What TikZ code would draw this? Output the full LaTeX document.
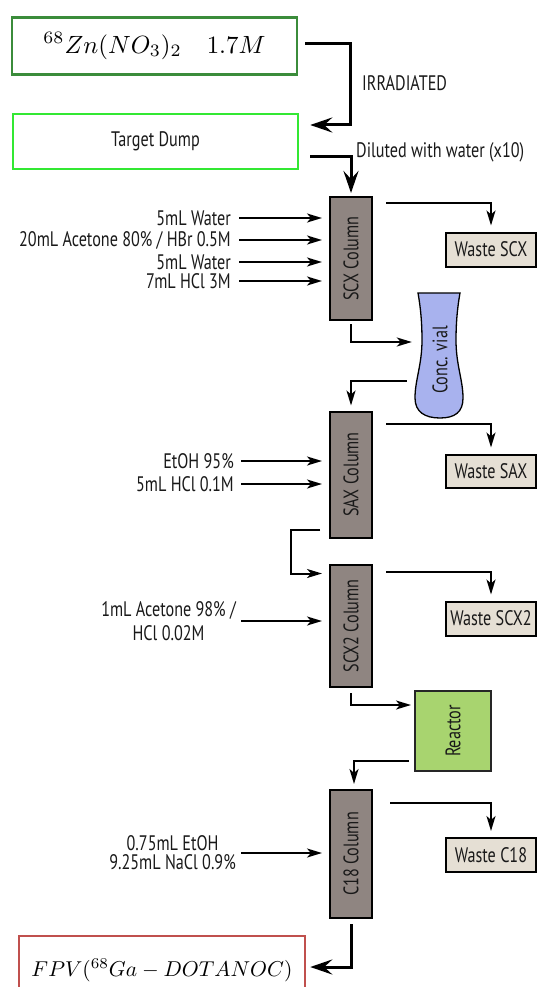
\documentclass[tikz,border=0pt]{standalone}
\usepackage{graphicx}
\usepackage{fontspec}
\newfontfamily\lbl[FakeStretch=0.77]{PT Sans}
\usetikzlibrary{arrows.meta,calc}
\definecolor{topgreen}{HTML}{3B8C3B}
\definecolor{dumpgreen}{HTML}{33E833}
\definecolor{colfill}{HTML}{8F8581}
\definecolor{wastefill}{HTML}{E5DFD4}
\definecolor{vialfill}{HTML}{A8B2EE}
\definecolor{reactfill}{HTML}{A8D46F}
\definecolor{fpvred}{HTML}{C0504D}
\begin{document}
\begin{tikzpicture}[x=1pt,y=-1pt,
  lbltext/.style={font=\lbl\fontsize{21}{24}\selectfont, text=black!90, inner sep=0pt},
  column/.style={draw=black, line width=2pt, fill=colfill, minimum width=42pt, inner sep=0pt, lbltext},
  waste/.style={draw=black, line width=2pt, fill=wastefill, minimum width=90pt, minimum height=34pt, inner sep=0pt, lbltext},
  arr/.style={line width=2pt, -{Stealth[length=15pt,width=9pt,inset=4pt]}},
  bigarr/.style={line width=3pt, -{Stealth[length=22pt,width=15pt,inset=8pt]}},
  inlabel/.style={lbltext, anchor=east}
]
\useasboundingbox (0,0) rectangle (536,987);

% top boxes
\node[draw=topgreen, line width=2.5pt, minimum width=285pt, minimum height=57pt, inner sep=0pt] (top) at (154.5,46)
  {\resizebox{222pt}{!}{$^{68}Zn(NO_3)_2\quad 1.7M$}};
\node[draw=dumpgreen, line width=2.5pt, minimum width=285pt, minimum height=55pt, inner sep=0pt, lbltext] (dump) at (155.5,141.5) {Target Dump};
\node[lbltext, anchor=west] (irr) at (362,83) {IRRADIATED};
\node[lbltext, anchor=west] (dil) at (356,152) {Diluted with water (x10)};

% columns
\node[column, minimum height=123pt] (scx) at (351,258.5) {\rotatebox{90}{SCX Column}};
\node[column, minimum height=126pt] (sax) at (351,474.5) {\rotatebox{90}{SAX Column}};
\node[column, minimum height=122pt] (scx2) at (351,626) {\rotatebox{90}{SCX2 Column}};
\node[column, minimum height=128pt] (c18) at (351,854) {\rotatebox{90}{C18 Column}};

% waste boxes
\node[waste] (wscx) at (491,249.5) {Waste SCX};
\node[waste, minimum height=33pt] (wsax) at (491,471) {Waste SAX};
\node[waste] (wscx2) at (491,618.5) {Waste SCX2};
\node[waste] (wc18) at (491,855) {Waste C18};

% vial
\draw[line width=1.3pt, fill=vialfill] (418,293) -- (460,293)
  .. controls (457,310) and (456,325) .. (456,340)
  .. controls (456,365) and (463,380) .. (463,398)
  .. controls (463,412) and (455,418) .. (440,418)
  .. controls (425,418) and (415,412) .. (415,398)
  .. controls (415,380) and (422,365) .. (422,340)
  .. controls (422,325) and (421,310) .. (418,293) -- cycle;
\node[minimum width=48pt, minimum height=125pt, inner sep=0pt] (vial) at (439,355.5) {};
\node[lbltext] (vialtxt) at (440,360) {\rotatebox{90}{Conc. vial}};

% reactor
\node[draw=black!85, line width=2pt, fill=reactfill, minimum width=76pt, minimum height=80pt, lbltext] (reactor) at (453,731) {\rotatebox{90}{Reactor}};

% final product
\node[draw=fpvred, line width=2.5pt, minimum width=286pt, minimum height=68pt, inner sep=0pt] (fpv) at (162,970)
  {\resizebox{261pt}{!}{$FPV(^{68}Ga-DOTANOC)$}};

% inputs SCX
\node[inlabel] (a1) at (231,218) {5mL Water};
\node[inlabel] (a2) at (231,240) {20mL Acetone 80\% / HBr 0.5M};
\node[inlabel] (a3) at (231,262) {5mL Water};
\node[inlabel] (a4) at (231,281) {7mL HCl 3M};
\foreach \n in {a1,a2,a3,a4}
  \draw[arr] ($(\n.east)+(8,0)$) -- ($(\n.east -| scx.west)+(-7,0)$);

% inputs SAX
\node[inlabel] (b1) at (234,461) {EtOH 95\%};
\node[inlabel] (b2) at (234,484) {5mL HCl 0.1M};
\foreach \n in {b1,b2}
  \draw[arr] ($(\n.east)+(7,0)$) -- ($(\n.east -| sax.west)+(-7,0)$);

% inputs SCX2
\node[inlabel, align=center, font=\lbl\fontsize{21}{24}\selectfont] (c1) at (236,621) {1mL Acetone 98\% /\\HCl 0.02M};
\draw[arr] ($(c1.east)+(5,0)$) -- ($(c1.east -| scx2.west)+(-7,0)$);

% inputs C18
\node[inlabel, align=center, font=\lbl\fontsize{21}{19}\selectfont] (d1) at (236,853) {0.75mL EtOH\\9.25mL NaCl 0.9\%};
\draw[arr] ($(d1.east)+(5,0)$) -- ($(d1.east -| c18.west)+(-7,0)$);

% main flow
\draw[bigarr] ($(top.east)+(7,-2)$) -- ++(45,0) |- ($(dump.east)+(11,-16.5)$);
\draw[bigarr] ($(dump.east)+(11,15.5)$) -| ($(scx.north)+(0,-3)$);
\draw[arr] ($(scx.north east)+(13,7)$) -| ($(wscx.north)+(0,-6)$);
\draw[arr] ($(scx.south)+(0,3)$) |- ($(vial.west)+(-3,-13.5)$);
\draw[arr] ($(vial.west)+(-8,25.5)$) -| ($(sax.north)+(0,-5)$);
\draw[arr] ($(sax.north east)+(13,13)$) -| ($(wsax.north)+(0,-6)$);
\draw[arr] ($(sax.south west)+(-9,-9)$) -- ++(-29,0) |- ($(scx2.north west)+(-7,9.5)$);
\draw[arr] ($(scx2.north east)+(13,8)$) -| ($(wscx2.north)+(0,-6)$);
\draw[arr] ($(scx2.south)+(0,5)$) |- ($(reactor.west)+(-3,-26)$);
\draw[arr] ($(reactor.west)+(-5,30)$) -| ($(c18.north)+(3,-5)$);
\draw[arr] ($(c18.north east)+(17,14)$) -| ($(wc18.north)+(0,-6)$);
\draw[bigarr] ($(c18.south)+(0,5)$) |- ($(fpv.east)+(4,-3)$);
\end{tikzpicture}
\end{document}
